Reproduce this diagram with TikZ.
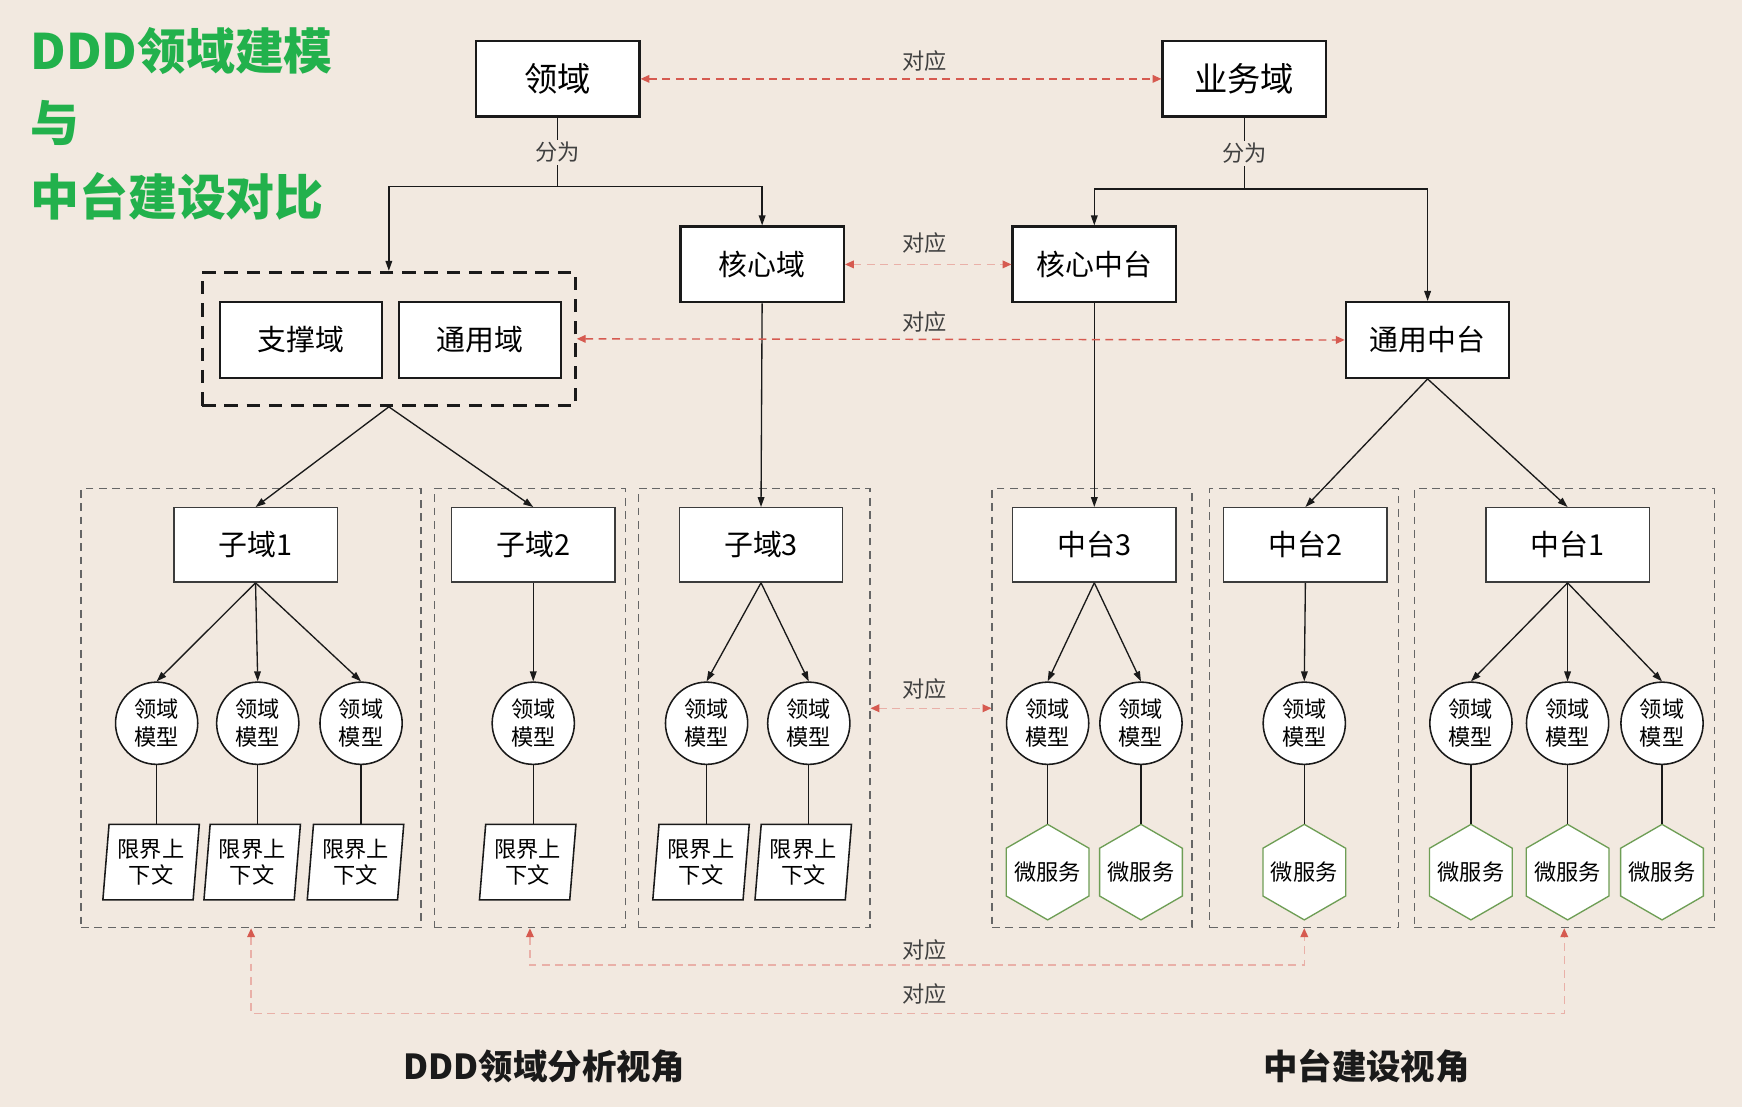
\documentclass[tikz,border=0pt]{standalone}
\usepackage{fontspec}
\setmainfont{Noto Sans CJK SC}
\usetikzlibrary{arrows.meta,shapes.geometric}
\definecolor{paper}{HTML}{F2E9E0}
\definecolor{corrred}{HTML}{D65A50}
\definecolor{corrpink}{HTML}{E9B0A8}
\definecolor{titlegreen}{HTML}{22B14C}
\definecolor{hexgreen}{HTML}{6E9E55}
\definecolor{ink}{HTML}{1A1A1A}
\begin{document}
\begin{tikzpicture}[x=0.5pt,y=-0.5pt,
  bigbox/.style={draw=ink,line width=1.1pt,fill=white,minimum width=73.5pt,minimum height=34pt,inner sep=0pt,font=\fontsize{15}{18}\selectfont},
  midbox/.style={bigbox,font=\fontsize{13}{16}\selectfont},
  subbox/.style={draw=ink!85,line width=0.6pt,fill=white,minimum width=73.5pt,minimum height=33.5pt,inner sep=0pt,font=\fontsize{13}{16}\selectfont},
  model/.style={circle,draw=ink,line width=0.7pt,fill=white,minimum size=37pt,inner sep=0pt,align=center,font=\fontsize{10}{12.5}\selectfont},
  ctx/.style={trapezium,trapezium left angle=84,trapezium right angle=96,trapezium stretches=true,draw=ink,line width=0.7pt,fill=white,minimum width=43.5pt,minimum height=34pt,inner sep=0pt,align=center,font=\fontsize{10}{12}\selectfont},
  svc/.style={regular polygon,regular polygon sides=6,shape border rotate=30,draw=hexgreen,line width=0.6pt,fill=white,minimum size=43pt,inner sep=0pt,font=\fontsize{10}{12}\selectfont},
  zone/.style={draw=black!60,line width=0.55pt,dash pattern=on 3.5pt off 2.5pt,minimum height=197.5pt,inner sep=0pt},
  link/.style={draw=ink,line width=0.6pt,-{Triangle[length=4.5pt,width=3pt]}},
  plain/.style={draw=ink,line width=0.6pt},
  corr/.style={draw=corrred,line width=0.6pt,dash pattern=on 3.5pt off 2.5pt,{Triangle[length=4pt,width=3.5pt,color=corrred]}-{Triangle[length=4pt,width=3.5pt,color=corrred]}},
  corrsoft/.style={corr,draw=corrpink},
  lbl/.style={font=\fontsize{10}{12}\selectfont,text=black!75,inner sep=1pt},
  heading/.style={font=\bfseries\fontsize{22}{26}\selectfont,text=titlegreen,anchor=west,inner sep=0pt},
  caption/.style={font=\bfseries\fontsize{15.5}{18}\selectfont,text=ink},
]
% canvas
\fill[paper] (0,0) rectangle (1568,996);
\useasboundingbox (0,0) rectangle (1568,996);

% heading
\node[heading] (title1) at (27,46) {DDD领域建模};
\node[heading] (title2) at (27,111) {与};
\node[heading] (title3) at (27,177) {中台建设对比};

% dashed zones of the lower half
\node[zone,minimum width=153pt] (c1) at (226,637.5) {};
\node[zone,minimum width=86pt]  (c2) at (477,637.5) {};
\node[zone,minimum width=104pt] (c3) at (679,637.5) {};
\node[zone,minimum width=90pt]  (c4) at (983,637.5) {};
\node[zone,minimum width=85pt]  (c5) at (1174,637.5) {};
\node[zone,minimum width=135pt] (c6) at (1408,637.5) {};

% upper level
\node[bigbox] (ly)  at (502,71)  {领域};
\node[bigbox] (ywy) at (1120,71) {业务域};
\node[midbox] (hxy)  at (686,238) {核心域};
\node[midbox] (hxzt) at (985,238) {核心中台};
\node[draw=ink,line width=1.2pt,dash pattern=on 6pt off 4pt,minimum width=168pt,minimum height=60pt,inner sep=0pt] (grp) at (350,305) {};
\node[midbox,minimum width=73pt] (zcy) at (271,306) {支撑域};
\node[midbox,minimum width=73pt] (tyy) at (432,306) {通用域};
\node[midbox] (tyzt) at (1285,306) {通用中台};

% sub domains and platforms
\node[subbox] (zy1) at (230,490.5) {子域1};
\node[subbox] (zy2) at (480,490.5) {子域2};
\node[subbox] (zy3) at (685,490.5) {子域3};
\node[subbox] (zt3) at (985,490.5) {中台3};
\node[subbox] (zt2) at (1175,490.5) {中台2};
\node[subbox] (zt1) at (1411,490.5) {中台1};

% domain models
\foreach \n/\x in {m11/141,m12/232,m13/325,m21/480,m31/636,m32/728,m41/943,m42/1027,m51/1174,m61/1324,m62/1411,m63/1496}
  \node[model] (\n) at (\x,651) {领域\\模型};

% bounded contexts
\foreach \n/\x in {b11/136,b12/227,b13/320,b21/475,b31/631,b32/723}
  \node[ctx] (\n) at (\x,776) {限界上\\下文};

% microservices (text kept zero-width so the hexagon size is fixed)
\foreach \n/\x in {s41/943,s42/1027,s51/1174,s61/1324,s62/1411,s63/1496}
  \node[svc] (\n) at (\x,785) {\makebox[0pt]{微服务}};

% splits
\coordinate (lysplit) at (502,168);
\draw[plain] (ly.south) -- node[lbl,fill=paper]{分为} (lysplit);
\draw[link] (lysplit) -| (grp.north);
\draw[link] (lysplit) -| (hxy.north);
\coordinate (ywysplit) at (1120,170);
\draw[plain] (ywy.south) -- node[lbl,fill=paper]{分为} (ywysplit);
\draw[link] (ywysplit) -| (hxzt.north);
\draw[link] (ywysplit) -| (tyzt.north);

% down to sub domains / platforms
\draw[link] (grp.south) -- (zy1.north);
\draw[link] (grp.south) -- (zy2.north);
\draw[link] (hxy.south) -- (zy3.north);
\draw[link] (hxzt.south) -- (zt3.north);
\draw[link] (tyzt.south) -- (zt2.north);
\draw[link] (tyzt.south) -- (zt1.north);

% down to models
\foreach \p/\c in {zy1/m11,zy1/m12,zy1/m13,zy2/m21,zy3/m31,zy3/m32,zt3/m41,zt3/m42,zt2/m51,zt1/m61,zt1/m62,zt1/m63}
  \draw[link] (\p.south) -- (\c.north);

% models to contexts and services
\foreach \m/\b in {m11/b11,m12/b12,m13/b13,m21/b21,m31/b31,m32/b32}
  \draw[plain] (\m.south) -- (\m.south |- \b.north);
\foreach \m/\s in {m41/s41,m42/s42,m51/s51,m61/s61,m62/s62,m63/s63}
  \draw[plain] (\m.south) -- (\s.north);

% correspondences
\draw[corr] (ly.east) -- (ywy.west);
\draw[corrsoft] (hxy.east) -- (hxzt.west);
\draw[corr] (grp.east) -- (tyzt.west);
\draw[corrsoft] (c3.east) -- (c4.west);
\draw[corrsoft] (c2.south) -- ++(0,33) -| (c5.south);
\draw[corrsoft] (c1.south) -- ++(0,77) -| (c6.south);
\node[lbl] (k1) at (832,55)  {对应};
\node[lbl] (k2) at (832,219) {对应};
\node[lbl] (k3) at (832,290) {对应};
\node[lbl] (k4) at (832,620) {对应};
\node[lbl] (k5) at (832,855) {对应};
\node[lbl] (k6) at (832,895) {对应};

% captions
\node[caption] (capl) at (490,960) {DDD领域分析视角};
\node[caption] (capr) at (1230,960) {中台建设视角};
\end{tikzpicture}
\end{document}
